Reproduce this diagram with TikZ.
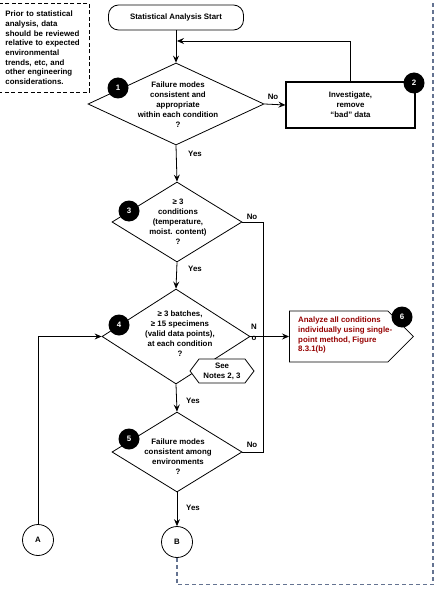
\documentclass[tikz,border=0pt]{standalone}
\usepackage{fontspec}
\setmainfont{Liberation Sans}
\usetikzlibrary{shapes.geometric,shapes.symbols,arrows.meta}
\definecolor{dashblue}{RGB}{100,115,145}
\definecolor{darkred}{RGB}{150,0,0}
\begin{document}
\begin{tikzpicture}[x=1bp,y=-1bp,
  base/.style={font=\fontsize{7.9}{10}\selectfont\bfseries},
  ln/.style={line width=0.8bp},
  arr/.style={ln,-{Stealth[length=7bp,width=6bp,inset=2.5bp]}},
  dia/.style={draw,ln,diamond,inner sep=0pt,fill=white},
  txt/.style={base,align=center,inner sep=0pt},
  badge/.style={circle,fill=black,text=white,minimum size=21bp,inner sep=0pt,base},
  conn/.style={circle,draw,ln,fill=white,minimum size=31bp,inner sep=0pt,base},
  lbl/.style={base,inner sep=0pt}]
\useasboundingbox (0,0) rectangle (437,592);
% notes box
\node[draw,ln,dash pattern=on 4bp off 2.5bp,anchor=north west,minimum width=91bp,minimum height=89bp,
  text width=77bp,inner xsep=7bp,inner ysep=0pt,align=left,font=\fontsize{7.9}{9.7}\selectfont\bfseries]
  (notes) at (-2,3) {Prior to statistical\\analysis, data\\should be reviewed\\relative to expected\\environmental\\trends, etc, and\\other engineering\\considerations.};
% start
\node[draw,ln,rounded corners=10bp,minimum width=135bp,minimum height=25bp,base] (start) at (176,17.5) {Statistical Analysis Start};
% diamonds
\node[dia,minimum width=176bp,minimum height=82bp] (d1) at (176,104) {};
\node[txt] (t1) at (178,105) {Failure modes\\consistent and\\appropriate\\within each condition\\?};
\node[draw,line width=1.1bp,minimum width=129bp,minimum height=46bp,base,align=center] (b2) at (350.5,105) {Investigate,\\remove\\``bad'' data};
\node[dia,minimum width=130bp,minimum height=80bp] (d3) at (177,222) {};
\node[txt] (t3) at (178,222) {≥ 3\\conditions\\(temperature,\\moist. content)\\?};
\node[dia,minimum width=148bp,minimum height=95bp] (d4) at (176,336.5) {};
\node[txt] (t4) at (180,334) {≥ 3 batches,\\≥ 15 specimens\\(valid data points),\\at each condition\\?};
\node[dia,minimum width=130bp,minimum height=80bp] (d5) at (177,452) {};
\node[txt] (t5) at (178,457) {Failure modes\\consistent among\\environments\\?};
% box 6
\node[signal,signal to=east,signal pointer angle=90,draw,ln,fill=white,minimum width=124bp,minimum height=51bp,inner sep=0pt,anchor=west] (b6) at (289,336.5) {};
\node[base,text=darkred,align=left,anchor=west,inner sep=0pt] (t6) at (298,335) {Analyze all conditions\\individually using single-\\point method, Figure\\8.3.1(b)};
% connectors
\coordinate (j1) at (177,41);
\coordinate (j2) at (263,336.5);
\coordinate (c1) at (433,3);
\draw[arr] (start.south) -- (d1.north);
\draw[arr] (b2.north) |- (j1);
\draw[arr] (d1.east) -- (b2.west);
\draw[arr] (d1.south) -- (d3.north);
\draw[ln] (d3.east) -| (j2);
\draw[ln] (d5.east) -| (j2);
\draw[arr] (d3.south) -- (d4.north);
\draw[arr] (d4.east) -- (b6.west);
\draw[arr] (d4.south) -- (d5.north);
\node[conn] (A) at (38,540) {A};
\node[conn] (B) at (177,542) {B};
\draw[arr] (d5.south) -- (B.north);
\draw[arr] (A.north) |- (d4.west);
\draw[dashblue,line width=1.1bp,dash pattern=on 4bp off 3bp] (B.south) -- ++(0,27) -| (c1);
% hexagon
\node[signal,signal to=west and east,signal pointer angle=106,draw,ln,fill=white,minimum width=64bp,minimum height=24bp,inner sep=0pt,base,align=center] (hex) at (222,371) {See\\Notes 2, 3};
% labels
\node[lbl] (l1) at (273,97) {No};
\node[lbl] (l2) at (195,154) {Yes};
\node[lbl] (l3) at (252,217) {No};
\node[lbl] (l4) at (195,269) {Yes};
\node[lbl,align=center,font=\fontsize{7.9}{11}\selectfont\bfseries] (l5) at (254,332) {N\\o};
\node[lbl] (l6) at (193,401) {Yes};
\node[lbl] (l7) at (252,445) {No};
\node[lbl] (l8) at (193,508) {Yes};
% badges
\node[badge] (n1) at (118,88) {1};
\node[badge] (n2) at (414,83) {2};
\node[badge] (n3) at (129,211) {3};
\node[badge] (n4) at (119,325) {4};
\node[badge] (n5) at (129,439) {5};
\node[badge] (n6) at (402,317) {6};
\end{tikzpicture}
\end{document}
